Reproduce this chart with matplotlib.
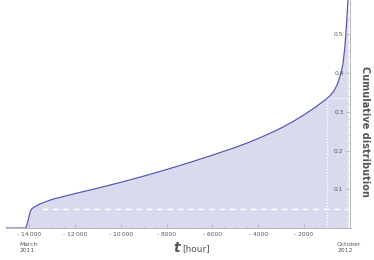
import matplotlib
matplotlib.use("Agg")
import matplotlib.pyplot as plt
from matplotlib.ticker import FixedLocator, MultipleLocator

t_hours = [-15000, -14150, -14080, -14000, -13950, -13880, -13700, -13500, -13000,
           -12000, -11000, -10000, -9000, -8000, -7000, -6000, -5000, -4500, -4000,
           -3500, -3000, -2500, -2000, -1500, -1200, -1000, -850, -700, -550, -400, -300,
           -220, -170, -120, -80]
cdf = [0.0, 0.0, 0.012, 0.032, 0.043, 0.050, 0.057, 0.063, 0.074,
       0.089, 0.103, 0.118, 0.134, 0.151, 0.169, 0.188, 0.208, 0.219, 0.231,
       0.244, 0.258, 0.274, 0.292, 0.312, 0.325, 0.334, 0.342, 0.353, 0.370, 0.397, 0.423,
       0.465, 0.505, 0.55, 0.59]

x_ticks = [-14000, -12000, -10000, -8000, -6000, -4000, -2000]
x_tick_labels = ["- 14\u2009000", "- 12\u2009000", "- 10\u2009000", "- 8000", "- 6000", "- 4000", "- 2000"]
y_ticks = [0.1, 0.2, 0.3, 0.4, 0.5]
y_tick_labels = ["0.1", "0.2", "0.3", "0.4", "0.5"]

dashed_level = 0.048
dashed_start = -13450
marker_t = -1000
marker_level = 0.335

line_color = "#5858b4"
fill_color = "#dadaee"
text_color = "#555555"
axis_color = "#b0b0b0"

fig = plt.figure(figsize=(3.74, 2.60), dpi=100)
ax = fig.add_axes([6.3 / 374, 31.9 / 260, (351 - 6.3) / 374, 228.1 / 260])
ax.set_xlim(-15000, 50)
ax.set_ylim(0, 0.588)

ax.fill_between(t_hours, 0, cdf, color=fill_color, lw=0, zorder=1)
ax.plot(t_hours, cdf, color=line_color, lw=0.9, zorder=3, clip_on=True)

ax.plot([dashed_start, 0], [dashed_level, dashed_level], color="white", lw=1.0,
        dashes=(4, 3.5), zorder=2)
ax.plot([marker_t, marker_t], [0, marker_level], color="white", lw=1.0,
        linestyle=(0, (1, 1.2)), zorder=2)
ax.plot([marker_t, 0], [marker_level, marker_level], color="white", lw=1.0,
        linestyle=(0, (1, 1.2)), zorder=2)

for s in ["top", "right"]:
    ax.spines[s].set_visible(False)
ax.spines["bottom"].set_color(axis_color)
ax.spines["bottom"].set_linewidth(0.6)
ax.spines["left"].set_position(("data", 0))
ax.spines["left"].set_color(axis_color)
ax.spines["left"].set_linewidth(0.6)

ax.xaxis.set_major_locator(FixedLocator(x_ticks))
ax.set_xticklabels(x_tick_labels)
ax.xaxis.set_minor_locator(MultipleLocator(500))
ax.tick_params(axis="x", which="major", direction="in", length=3, width=0.5,
               color=axis_color, labelsize=4.3, labelcolor=text_color, pad=2.5)
ax.tick_params(axis="x", which="minor", direction="in", length=1.6, width=0.4,
               color=axis_color)

ax.yaxis.set_major_locator(FixedLocator(y_ticks))
ax.set_yticklabels(y_tick_labels)
ax.yaxis.set_minor_locator(MultipleLocator(0.02))
ax.tick_params(axis="y", which="major", direction="out", length=3, width=0.5,
               color=axis_color, labelsize=4.3, labelcolor=text_color, pad=1.5)
ax.tick_params(axis="y", which="minor", direction="out", length=1.6, width=0.4,
               color=axis_color)

fig.text(365 / 374, 1 - 131 / 260, "Cumulative distribution", rotation=270,
         ha="center", va="center", fontsize=7, fontweight="bold", color=text_color)
fig.text(180 / 374, 1 - 248 / 260, "t", fontsize=10, style="italic",
         ha="right", va="center", color=text_color, fontweight="bold")
fig.text(182 / 374, 1 - 248.5 / 260, "[hour]", fontsize=6.5,
         ha="left", va="center", color=text_color)
fig.text(19 / 374, 1 - 247.5 / 260, "March\n2011", fontsize=4.3, ha="left",
         va="center", color=text_color, linespacing=1.5)
fig.text(337 / 374, 1 - 247.5 / 260, "October\n2012", fontsize=4.3, ha="left",
         va="center", color=text_color, linespacing=1.5)

fig.savefig("out.png", dpi=100)
